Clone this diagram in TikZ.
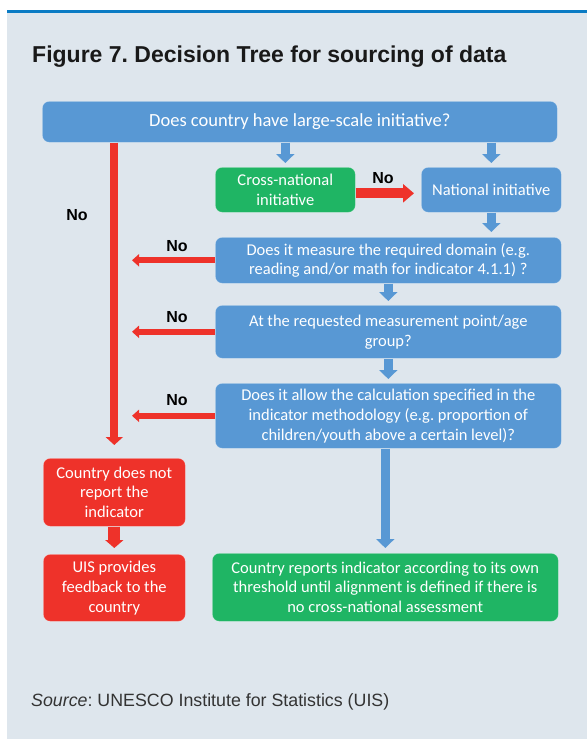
\documentclass[tikz,border=0pt]{standalone}
\usepackage{fontspec}
\newfontfamily\boxfont{Carlito}
\newfontfamily\arialfont{Liberation Sans}
\usetikzlibrary{arrows.meta,calc}
\definecolor{bgc}{RGB}{222,230,237}
\definecolor{topline}{RGB}{10,123,196}
\definecolor{cblue}{RGB}{88,152,212}
\definecolor{cgreen}{RGB}{31,181,100}
\definecolor{cred}{RGB}{238,50,42}
\tikzset{
  box/.style={rounded corners=7pt, anchor=north west, inner sep=0pt, align=center,
    text=white, font=\boxfont\fontsize{16.5}{19.8}\selectfont,
    draw=white, draw opacity=0.35, line width=0.6pt},
  bluebox/.style={box, fill=cblue},
  greenbox/.style={box, fill=cgreen},
  redbox/.style={box, fill=cred},
  barrow/.style={draw=cblue, line width=9.5pt, -{Triangle[width=18pt,length=9pt]}},
  rvline/.style={draw=cred, line width=8pt, -{Triangle[width=17pt,length=8pt]}},
  rleft/.style={draw=cred, line width=6pt, -{Triangle[width=12pt,length=7pt]}},
  rright/.style={draw=cred, line width=10pt, -{Triangle[width=18pt,length=11pt]}},
  rdown/.style={draw=cred, line width=12pt, -{Triangle[width=18pt,length=8pt]}},
  nolab/.style={font=\arialfont\bfseries\fontsize{16}{19}\selectfont, inner sep=0pt, text=black}
}
\frenchspacing
\begin{document}
\begin{tikzpicture}[x=1pt,y=-1pt]
\useasboundingbox (0,0) rectangle (587,739);
\fill[white] (0,0) rectangle (587,739);
\fill[bgc] (7,12) rectangle (587,739);
\fill[topline] (7,10) rectangle (587,13);

\node[anchor=base west, inner sep=0pt, text=black!90, font=\arialfont\bfseries\fontsize{23}{27}\selectfont] (title) at (32,62) {Figure 7. Decision Tree for sourcing of data};

\node[bluebox, minimum width=515pt, minimum height=41pt, font=\boxfont\fontsize{18.5}{22}\selectfont] (q0) at (42,101) {Does country have large-scale initiative?};
\node[greenbox, minimum width=140pt, minimum height=45pt] (cross) at (215,167) {Cross-national\\initiative};
\node[bluebox, minimum width=140pt, minimum height=45pt] (nat) at (421,167) {National initiative};
\node[bluebox, minimum width=346pt, minimum height=46pt] (q1) at (215,237) {Does it measure the required domain (e.g.\\reading and/or math for indicator 4.1.1) ?};
\node[bluebox, minimum width=346pt, minimum height=53pt] (q2) at (215,305) {At the requested measurement point/age\\group?};
\node[bluebox, minimum width=346pt, minimum height=65pt] (q3) at (215,383) {Does it allow the calculation specified in the\\indicator methodology (e.g. proportion of\\children/youth above a certain level)?};
\node[redbox, minimum width=142pt, minimum height=68pt] (nr) at (43,458) {Country does not\\report the\\indicator};
\node[redbox, minimum width=142pt, minimum height=67pt] (fb) at (43,554) {UIS provides\\feedback to the\\country};
\node[greenbox, minimum width=346pt, minimum height=68pt] (rep) at (212,553) {Country reports indicator according to its own\\threshold until alignment is defined if there is\\no cross-national assessment};

\coordinate (lx) at (132,0);

% blue arrows
\draw[barrow] (q0.south -| cross.north) -- ([yshift=4pt]cross.north);
\draw[barrow] (q0.south -| nat.north) -- ([yshift=4pt]nat.north);
\draw[barrow] (nat.south) -- ([yshift=5pt]q1.north -| nat.south);
\draw[barrow] (q1.south) -- ([yshift=4pt]q2.north);
\draw[barrow] (q2.south) -- ([yshift=4pt]q3.north);
\draw[barrow] (q3.south -| rep.north) -- ([yshift=5pt]rep.north);

% red arrows
\draw[rvline] (q0.south -| nr.north) -- ([yshift=13pt]nr.north);
\draw[rdown] (nr.south) -- ([yshift=6pt]fb.north);
\draw[rright] ([yshift=-3.5pt]cross.east) -- ([xshift=-7pt,yshift=-3.5pt]nat.west);
\draw[rleft] (q1.west) -- (q1.west -| lx);
\draw[rleft] (q2.west) -- (q2.west -| lx);
\draw[rleft] (q3.west) -- (q3.west -| lx);

% labels
\node[nolab] (no0) at (77,215) {No};
\node[nolab] (no1) at (383,178) {No};
\node[nolab] (no2) at (177,246) {No};
\node[nolab] (no3) at (177,317) {No};
\node[nolab] (no4) at (177,400) {No};

\node[anchor=base west, inner sep=0pt, text=black!80, font=\arialfont\fontsize{17.8}{21}\selectfont] (src) at (31,706) {\textit{Source}: UNESCO Institute for Statistics (UIS)};
\end{tikzpicture}
\end{document}
